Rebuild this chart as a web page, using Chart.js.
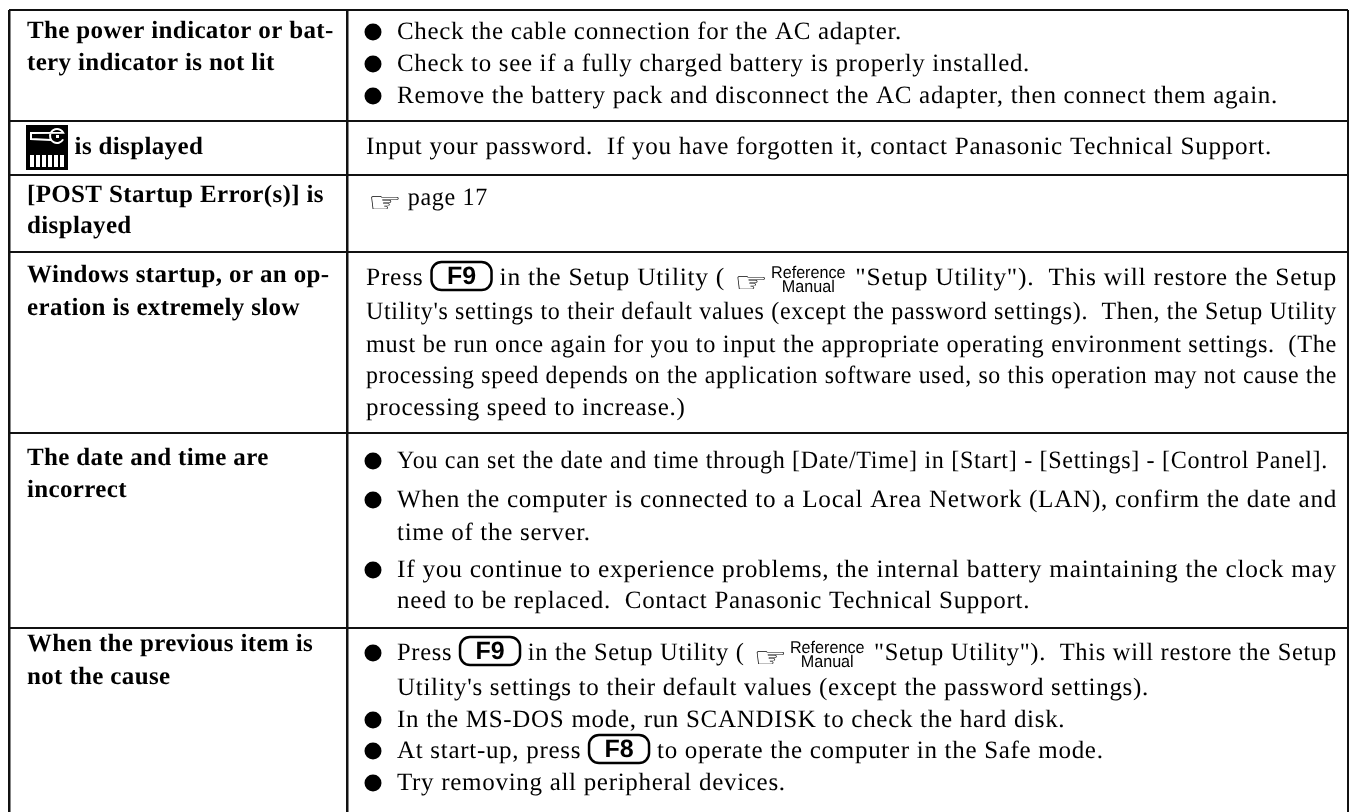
<!DOCTYPE html>
<html>
<head>
<meta charset="utf-8">
<title>Troubleshooting table</title>
<script src="https://cdn.jsdelivr.net/npm/chart.js@4/dist/chart.umd.min.js"></script>
<style>
html, body { margin: 0; padding: 0; background: #fff; overflow: hidden; }
canvas { display: block; }
</style>
</head>
<body>
<canvas id="troubleTable" width="1349" height="812"></canvas>
<script>
// table content
const problemLines = [
    ["The power indicator or bat-", "tery indicator is not lit"],
    ["{key} is displayed"],
    ["[POST Startup Error(s)] is", "displayed"],
    ["Windows startup, or an op-", "eration is extremely slow"],
    ["The date and time are", "incorrect"],
    ["When the previous item is", "not the cause"]
];
const solutionLines = [
    ["●Check the cable connection for the AC adapter.",
     "●Check to see if a fully charged battery is properly installed.",
     "●Remove the battery pack and disconnect the AC adapter, then connect them again."],
    ["Input your password.  If you have forgotten it, contact Panasonic Technical Support."],
    ["{hand} page 17"],
    ["Press {F9} in the Setup Utility ( {hand} {ref} \"Setup Utility\").  This will restore the Setup",
     "Utility's settings to their default values (except the password settings).  Then, the Setup Utility",
     "must be run once again for you to input the appropriate operating environment settings.  (The",
     "processing speed depends on the application software used, so this operation may not cause the",
     "processing speed to increase.)"],
    ["●You can set the date and time through [Date/Time] in [Start] - [Settings] - [Control Panel].",
     "●When the computer is connected to a Local Area Network (LAN), confirm the date and",
     "time of the server.",
     "●If you continue to experience problems, the internal battery maintaining the clock may",
     "need to be replaced.  Contact Panasonic Technical Support."],
    ["●Press {F9} in the Setup Utility ( {hand} {ref} \"Setup Utility\").  This will restore the Setup",
     "Utility's settings to their default values (except the password settings).",
     "●In the MS-DOS mode, run SCANDISK to check the hard disk.",
     "●At start-up, press {F8} to operate the computer in the Safe mode.",
     "●Try removing all peripheral devices."]
];
const rowEdges = [10, 121, 175, 252, 433, 628];
const columnEdges = [9, 347, 1348];

// layout
const problemBaselines = [[38, 70], [154], [202, 233], [282, 315], [465, 497], [651, 684]];
const solutionBaselines = [
    [39, 71, 103], [154], [205],
    [285, 319, 352, 383, 415],
    [468, 507, 540, 577, 608],
    [660, 695, 727, 758, 790]
];
// right edge of the lines that were set to a measure
const lineRights = {
    "0:0": 902, "0:1": 1030, "0:2": 1278, "1:0": 1272, "2:0": 488,
    "3:0": 1337, "3:1": 1337, "3:2": 1337, "3:3": 1337,
    "4:0": 1328, "4:1": 1337, "4:3": 1337, "5:0": 1337
};
const serif = '"Liberation Serif", serif';

function bulletPoints() {
    const points = [];
    solutionLines.forEach((lines, r) => lines.forEach((line, i) => {
        if (line.startsWith("●")) points.push({ x: 373, y: solutionBaselines[r][i] - 7 });
    }));
    return points;
}

function tokenWidth(ctx, token) {
    if (token === "{F9}" || token === "{F8}") return 62;
    if (token === "{hand}") return 35;
    if (token === "{ref}") return 74;
    if (token === "{key}") return 41;
    return ctx.measureText(token).width;
}

function drawKeyCap(ctx, label, x, y) {
    ctx.save();
    ctx.letterSpacing = "0px";
    ctx.lineWidth = 2.5;
    ctx.strokeStyle = "#000";
    ctx.beginPath();
    ctx.roundRect(x + 1, y - 23, 60, 28, 10);
    ctx.stroke();
    ctx.font = 'bold 25px "Liberation Sans", sans-serif';
    ctx.textAlign = "center";
    ctx.fillText(label, x + 31, y - 1);
    ctx.restore();
}

function drawKeyIcon(ctx, x, y) {
    ctx.save();
    ctx.fillStyle = "#000";
    ctx.fillRect(x - 1, y - 29, 42, 45);
    ctx.strokeStyle = "#fff";
    ctx.fillStyle = "#fff";
    ctx.lineWidth = 2;
    ctx.beginPath();
    ctx.arc(x + 30, y - 18, 7, 0.5, Math.PI * 2 - 0.5);
    ctx.lineTo(x + 4, y - 21);
    ctx.lineTo(x + 4, y - 15);
    ctx.lineTo(x + 24, y - 14);
    ctx.stroke();
    ctx.fillRect(x + 29, y - 19, 3, 3);
    for (let i = 0; i < 6; i++) ctx.fillRect(x + 3 + i * 6, y + 1, 4, 12);
    ctx.restore();
}

function drawHand(ctx, x, y) {
    ctx.save();
    ctx.letterSpacing = "0px";
    ctx.translate(x + 2, y + 7);
    ctx.scale(1.35, 1);
    ctx.font = '28px "DejaVu Sans"';
    ctx.fillText("☞", 0, 0);
    ctx.restore();
}

function drawManualMark(ctx, x, y) {
    ctx.save();
    ctx.letterSpacing = "0px";
    ctx.translate(x + 34, y);
    ctx.scale(0.95, 1);
    ctx.font = '17px "Liberation Sans", sans-serif';
    ctx.textAlign = "center";
    ctx.fillText("Reference", 0, -7);
    ctx.fillText("Manual", 0, 7);
    ctx.restore();
}

// words are stretched or squeezed a little so the line ends at its measure
function drawTokens(ctx, text, x, y, right) {
    const tokens = text.split(/( +|\{[^}]+\})/).filter(t => t);
    let fixed = 0;
    let words = 0;
    tokens.forEach(t => {
        if (t.startsWith("{")) fixed += tokenWidth(ctx, t);
        else words += tokenWidth(ctx, t);
    });
    const sx = right ? (right - x - fixed) / words : 1;
    let cx = x;
    tokens.forEach(t => {
        if (t === "{F9}" || t === "{F8}") {
            drawKeyCap(ctx, t.slice(1, 3), cx, y);
        } else if (t === "{hand}") {
            drawHand(ctx, cx, y);
        } else if (t === "{ref}") {
            drawManualMark(ctx, cx, y);
        } else if (t === "{key}") {
            drawKeyIcon(ctx, cx, y);
        } else if (t.trim()) {
            ctx.save();
            ctx.translate(cx, y);
            ctx.scale(sx, 1);
            ctx.fillText(t, 0, 0);
            ctx.restore();
        }
        cx += tokenWidth(ctx, t) * (t.startsWith("{") ? 1 : sx);
    });
}

const tableText = {
    id: 'tableText',
    afterDatasetsDraw(chart) {
        const ctx = chart.ctx;
        const xs = chart.scales.x;
        const ys = chart.scales.y;
        ctx.save();
        ctx.fillStyle = "#000";
        ctx.textBaseline = "alphabetic";
        ctx.textRendering = "geometricPrecision";
        ctx.font = "bold 25px " + serif;
        ctx.letterSpacing = "0.35px";
        problemLines.forEach((lines, r) => lines.forEach((line, i) => {
            drawTokens(ctx, line, xs.getPixelForValue(27), ys.getPixelForValue(problemBaselines[r][i]));
        }));
        ctx.font = "25px " + serif;
        ctx.letterSpacing = "0.7px";
        solutionLines.forEach((lines, r) => {
            const hasBullets = lines.some(l => l.startsWith("●"));
            lines.forEach((line, i) => {
                const x = xs.getPixelForValue(hasBullets ? 397 : 366);
                drawTokens(ctx, line.replace("●", ""), x, ys.getPixelForValue(solutionBaselines[r][i]), lineRights[r + ":" + i]);
            });
        });
        ctx.restore();
    }
};

new Chart(document.getElementById('troubleTable'), {
    type: 'scatter',
    data: {
        datasets: [{
            data: bulletPoints(),
            pointRadius: 8.5,
            pointBackgroundColor: "#000",
            pointBorderWidth: 0,
            clip: false
        }]
    },
    options: {
        responsive: false,
        animation: false,
        devicePixelRatio: 1,
        layout: { autoPadding: false, padding: { left: 9, right: 1, top: 10, bottom: 0 } },
        plugins: {
            legend: false,
            tooltip: { enabled: false }
        },
        scales: {
            x: {
                type: 'linear',
                min: 9,
                max: 1348,
                afterBuildTicks: scale => { scale.ticks = columnEdges.map(v => ({ value: v })); },
                grid: { color: "#111", lineWidth: 2.5, drawTicks: false },
                border: { display: false },
                ticks: { display: false }
            },
            y: {
                type: 'linear',
                reverse: true,
                min: 10,
                max: 812,
                afterBuildTicks: scale => { scale.ticks = rowEdges.map(v => ({ value: v })); },
                grid: { color: "#111", lineWidth: 2, drawTicks: false },
                border: { display: false },
                ticks: { display: false }
            }
        }
    },
    plugins: [tableText]
});
</script>
</body>
</html>
